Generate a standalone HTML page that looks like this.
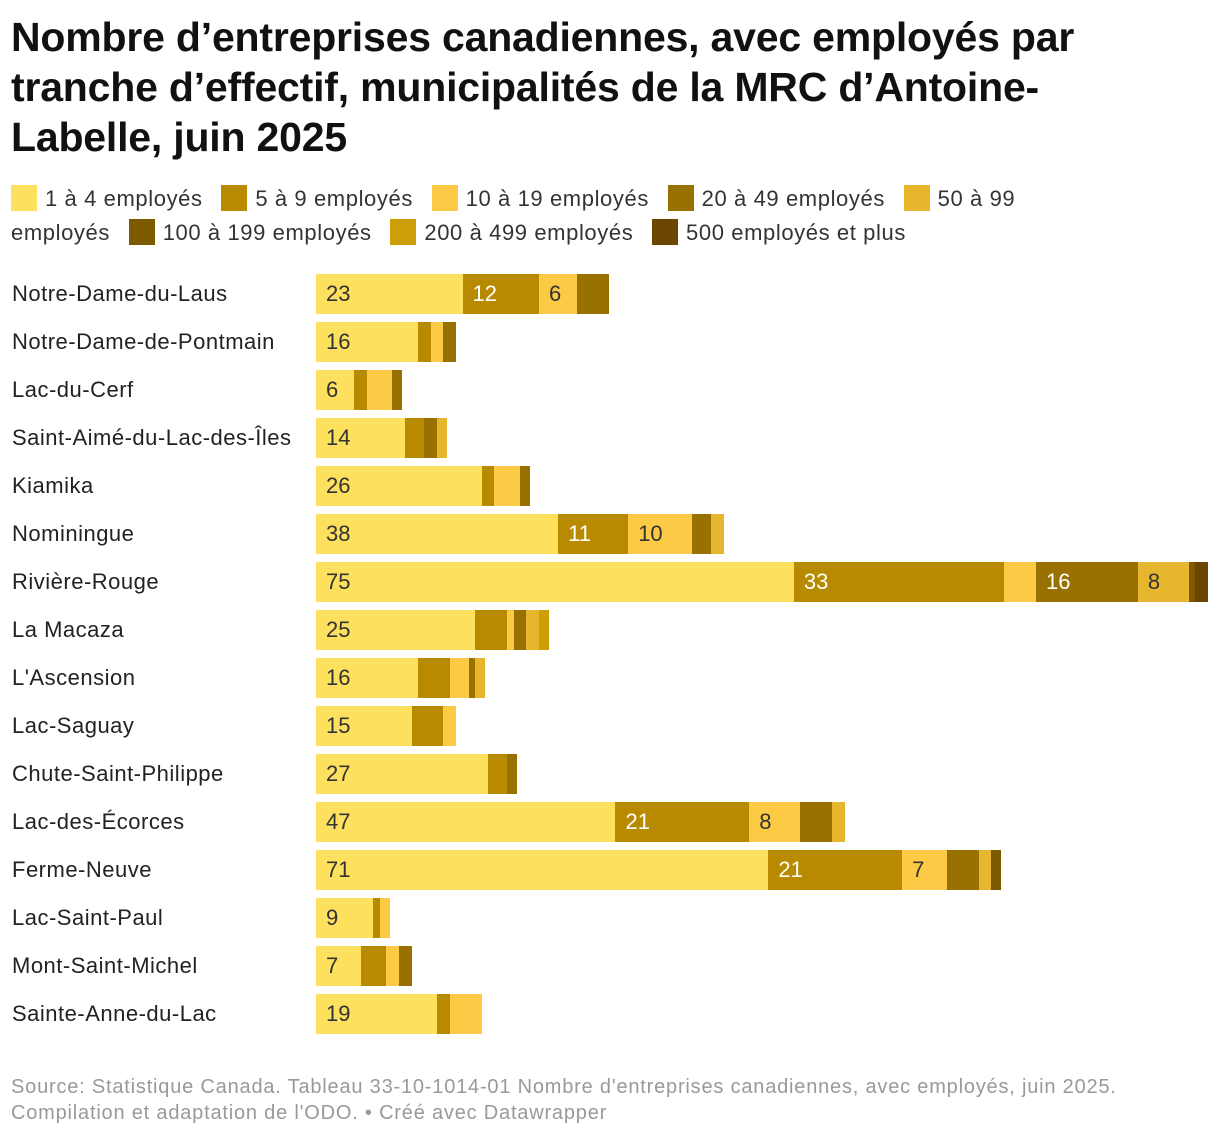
<!DOCTYPE html>
<html><head><meta charset="utf-8"><style>
body{margin:0;background:#fff;font-family:"Liberation Sans",sans-serif;width:1220px;height:1138px;position:relative;overflow:hidden}
h1{position:absolute;left:11px;top:12px;margin:0;font-size:41px;line-height:50px;font-weight:bold;color:#111;width:1100px;letter-spacing:-0.2px}
#legend{position:absolute;left:11px;top:182px;width:1070px;font-size:22px;line-height:34px;color:#333;letter-spacing:0.6px}
.li{margin-right:12px}
.li i{display:inline-block;width:26px;height:26px;vertical-align:-5px;margin-right:8px}
.lab{position:absolute;left:12px;font-size:22px;color:#222;letter-spacing:0.5px}
.seg{position:absolute;height:40px;font-size:22px;line-height:40px;box-sizing:border-box;padding-left:10px;overflow:hidden;white-space:nowrap}
#src{position:absolute;left:11px;top:1074px;font-size:20px;line-height:26px;color:#999;letter-spacing:0.8px}
</style></head><body>
<h1>Nombre d’entreprises canadiennes, avec employés par tranche d’effectif, municipalités de la MRC d’Antoine-Labelle, juin 2025</h1>
<div id="legend"></div>
<div id="chart"></div>
<div id="src">Source: Statistique Canada. Tableau 33-10-1014-01 Nombre d'entreprises canadiennes, avec employés, juin 2025.<br>Compilation et adaptation de l'ODO. • Créé avec Datawrapper</div>
<script>
const categories=["Notre-Dame-du-Laus","Notre-Dame-de-Pontmain","Lac-du-Cerf","Saint-Aimé-du-Lac-des-Îles","Kiamika","Nominingue","Rivière-Rouge","La Macaza","L'Ascension","Lac-Saguay","Chute-Saint-Philippe","Lac-des-Écorces","Ferme-Neuve","Lac-Saint-Paul","Mont-Saint-Michel","Sainte-Anne-du-Lac"];
const seriesNames=["1 à 4 employés","5 à 9 employés","10 à 19 employés","20 à 49 employés","50 à 99 employés","100 à 199 employés","200 à 499 employés","500 employés et plus"];
const s1to4=[23,16,6,14,26,38,75,25,16,15,27,47,71,9,7,19];
const s5to9=[12,2,2,3,2,11,33,5,5,5,3,21,21,1,4,2];
const s10to19=[6,2,4,0,4,10,5,1,3,2,0,8,7,1,2,5];
const s20to49=[5,2,1,2,1,3,16,2,1,0,1,5,5,0,2,0];
const s50to99=[0,0,0,1,0,2,8,2,1,0,0,2,2,0,0,0];
const s100to199=[0,0,0,0,0,0,1,0,0,0,0,0,1,0,0,0];
const s200to499=[0,0,0,0,0,0,0,1,0,0,0,0,0,0,0,0];
const s500plus=[0,0,0,0,0,0,2,0,0,0,0,0,0,0,0,0];
const series=[s1to4,s5to9,s10to19,s20to49,s50to99,s100to199,s200to499,s500plus];
const colors=["#fde05e","#b88a00","#fdca45","#997100","#e6b62e","#7d5a00","#cc9f07","#6b4600"];
const textCol=["#333","#fff","#333","#fff","#333","#fff","#333","#fff"];
const x0=316, unit=892/140, y0=274, step=48;
const x=v=>v*unit;
const lg=document.getElementById('legend');
seriesNames.forEach((n,i)=>{const d=document.createElement('span');d.className='li';


d.innerHTML='<i style="background:'+colors[i]+'"></i>'+n.replace(/ /,'\u00a0');lg.appendChild(d);lg.appendChild(document.createTextNode(' '));});
const ch=document.getElementById('chart');
categories.forEach((c,r)=>{
 const y=y0+r*step;
 const l=document.createElement('div');l.className='lab';l.style.top=(y+7)+'px';l.textContent=c;
 
 
 ch.appendChild(l);
 let acc=0;
 series.forEach((s,i)=>{const v=s[r];if(!v)return;
  const d=document.createElement('div');d.className='seg';
  
  
  d.style.left=(x0+x(acc))+'px';d.style.top=y+'px';d.style.width=x(v)+'px';
  d.style.background=colors[i];d.style.color=textCol[i];
  if(v>=6)d.textContent=v;
  ch.appendChild(d);acc+=v;});
});
</script>
</body></html>
